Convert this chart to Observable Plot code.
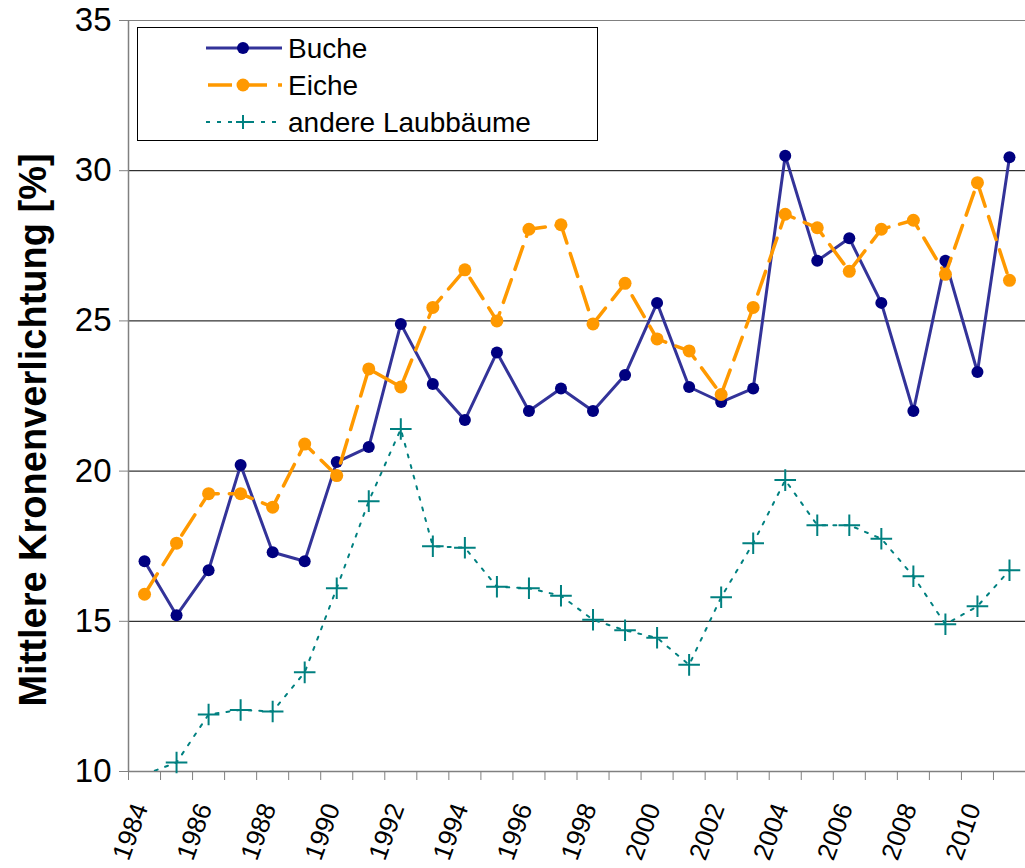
<!DOCTYPE html>
<html><head><meta charset="utf-8">
<script src="https://cdn.jsdelivr.net/npm/d3@7"></script>
<script src="https://cdn.jsdelivr.net/npm/@observablehq/plot@0.6"></script>
<style>body{margin:0;background:#fff} #chart{width:1025px;height:868px;overflow:hidden}</style>
</head><body><div id="chart"></div>
<script>
const years  = [1984,1985,1986,1987,1988,1989,1990,1991,1992,1993,1994,1995,1996,1997,1998,1999,2000,2001,2002,2003,2004,2005,2006,2007,2008,2009,2010,2011];
const buche  = [17.0,15.2,16.7,20.2,17.3,17.0,20.3,20.8,24.9,22.9,21.7,23.95,22.0,22.75,22.0,23.2,25.6,22.8,22.3,22.75,30.5,27.0,27.75,25.6,22.0,27.0,23.3,30.45];
const eiche  = [15.9,17.6,19.25,19.25,18.8,20.9,19.85,23.4,22.8,25.45,26.7,25.0,28.05,28.2,24.9,26.25,24.4,24.0,22.55,25.45,28.55,28.1,26.65,28.05,28.35,26.55,29.6,26.35];
const andere = [9.9,10.3,11.9,12.05,12.0,13.3,16.1,19.0,21.4,17.5,17.45,16.15,16.1,15.85,15.05,14.7,14.45,13.55,15.8,17.6,19.7,18.2,18.2,17.75,16.5,14.9,15.5,16.7];
const seriesNames = ["Buche", "Eiche", "andere Laubbäume"];
const yTicks = [10, 15, 20, 25, 30, 35];
const gridValues = [15, 20, 25, 30];
const xTickLabels = [1984,1986,1988,1990,1992,1994,1996,1998,2000,2002,2004,2006,2008,2010];
const yTitle = "Mittlere Kronenverlichtung [%]";

const rows = years.map((yr, i) => ({year: yr, buche: buche[i], eiche: eiche[i], andere: andere[i]}));
const mid = d => d.year + 0.5;
const font = "'Liberation Sans', Arial, Helvetica, sans-serif";
const yMin = yTicks[0], yMax = yTicks[yTicks.length - 1];

const chart = Plot.plot({
  width: 1025, height: 868,
  marginTop: 20, marginBottom: 97, marginLeft: 128, marginRight: 0,
  style: {fontFamily: font, background: "white", overflow: "visible", color: "black"},
  x: {type: "linear", domain: [years[0], years[years.length - 1] + 1], label: null},
  y: {domain: [yMin, yMax], label: null},
  marks: [
    Plot.ruleY(gridValues, {stroke: "#000", strokeWidth: 1}),
    Plot.ruleY([yMax], {stroke: "#808080", strokeWidth: 1}),
    Plot.axisX({ticks: years, tickSize: 9, tickFormat: () => "", stroke: "#808080", label: null}),
    Plot.axisY({ticks: yTicks, tickSize: 9, tickPadding: 8, fontSize: 33, stroke: "#808080", fill: "black", label: null}),
    Plot.ruleY([yMin], {stroke: "#808080", strokeWidth: 1.5}),
    Plot.ruleX([years[0]], {stroke: "#808080", strokeWidth: 1.5}),
    Plot.text(xTickLabels, {x: d => d + 0.5, text: d => String(d), frameAnchor: "bottom", rotate: -70,
      textAnchor: "end", lineAnchor: "middle", dy: 33, dx: -4, fontSize: 26, fill: "black"}),
    Plot.text([yTitle], {text: d => d, frameAnchor: "left", textAnchor: "middle", rotate: -90, dx: -95, dy: 34,
      fontSize: 38, fontWeight: "bold", fill: "black"}),
    Plot.line(rows, {x: mid, y: "buche", stroke: "#333399", strokeWidth: 3}),
    Plot.dot(rows, {x: mid, y: "buche", r: 6, fill: "#000080"}),
    Plot.line(rows, {x: mid, y: "eiche", stroke: "#FF9900", strokeWidth: 3.5, strokeDasharray: "24,11"}),
    Plot.dot(rows, {x: mid, y: "eiche", r: 6.5, fill: "#FF9900"}),
    Plot.line(rows, {x: mid, y: "andere", stroke: "#008080", strokeWidth: 2, strokeDasharray: "3,8", clip: true}),
    Plot.dot(rows, {filter: d => d.andere >= yMin, x: mid, y: "andere", symbol: "plus", r: 7, stroke: "#008080", strokeWidth: 2})
  ]
});
document.getElementById("chart").appendChild(chart);

// Legend
const legendStyles = [
  {stroke: "#333399", width: 3, dash: null, marker: "dot", fill: "#000080", r: 6},
  {stroke: "#FF9900", width: 3.5, dash: "24,11", marker: "dot", fill: "#FF9900", r: 6.5},
  {stroke: "#008080", width: 2, dash: "4,7", marker: "plus", fill: "#008080", r: 7}
];
const svg = d3.select(chart);
const lg = svg.append("g").attr("font-family", font).attr("font-size", 28).attr("text-anchor", "start");
lg.append("rect").attr("x", 137.5).attr("y", 27.5).attr("width", 460).attr("height", 113)
  .attr("fill", "white").attr("stroke", "black").attr("stroke-width", 1);
seriesNames.forEach((name, i) => {
  const st = legendStyles[i];
  const cy = 48 + i * 37;
  const ln = lg.append("line").attr("x1", 206).attr("x2", 282).attr("y1", cy).attr("y2", cy)
    .attr("stroke", st.stroke).attr("stroke-width", st.width);
  if (st.dash) ln.attr("stroke-dasharray", st.dash).attr("stroke-dashoffset", i === 1 ? -2 : 0);
  if (st.marker === "dot") {
    lg.append("circle").attr("cx", 243).attr("cy", cy).attr("r", st.r).attr("fill", st.fill);
  } else {
    lg.append("path").attr("d", `M${243 - st.r},${cy}H${243 + st.r}M243,${cy - st.r}V${cy + st.r}`)
      .attr("stroke", st.fill).attr("stroke-width", 2).attr("fill", "none");
  }
  lg.append("text").attr("x", 288).attr("y", cy).attr("dy", "0.36em").attr("fill", "black")
    .attr("text-anchor", "start").text(name);
});
</script>
</body></html>
